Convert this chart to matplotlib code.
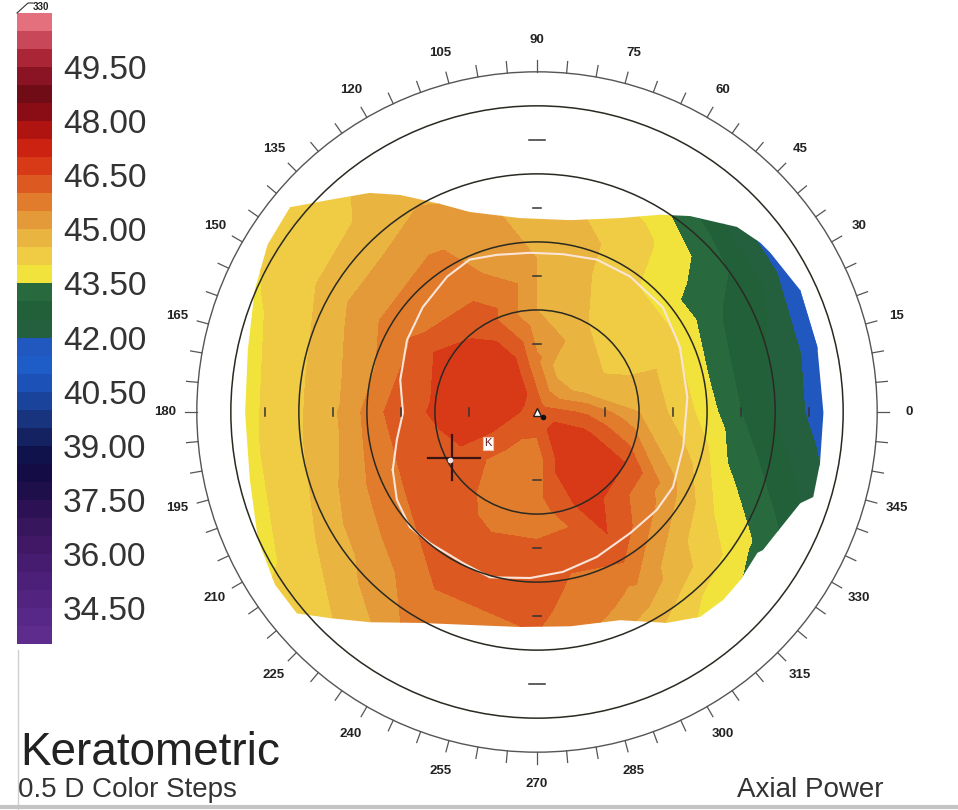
"""Axial keratometric power map (0.5 D colour steps) with the polar angle scale."""

import numpy as np
import matplotlib

matplotlib.use("Agg")
import matplotlib.pyplot as plt
from matplotlib.colors import BoundaryNorm, ListedColormap
from matplotlib.lines import Line2D
from matplotlib.patches import Circle, Polygon

plt.rcParams["font.family"] = ["Liberation Sans", "DejaVu Sans"]

# Colour scale: one colour per 0.5 D step, from 33.50 D up to 51.00 D.
STEP_LO = 33.5
STEP_HI = 51.0
STEP_COLOURS = [
    "#5e2c8c", "#582888", "#522480", "#4c2078", "#461c70", "#401866",
    "#38165e", "#2c1254", "#1e0e4a", "#140c44", "#10124c", "#142262",
    "#18347e", "#1a449c", "#1c52b8", "#1e5cc8", "#2058c0",
    "#24603e", "#22603a", "#286a3e",
    "#f2e23c", "#efcc44", "#eab440", "#e49a38", "#e07c2c", "#dc5a22",
    "#d83a18", "#cc2212", "#b01410", "#8a0c14", "#700c16", "#8a1424",
    "#aa2636", "#c8485a", "#e4707e",
]
BAR_TICKS = [34.5, 36.0, 37.5, 39.0, 40.5, 42.0, 43.5, 45.0, 46.5, 48.0, 49.5]

# Power (D) on a polar grid: angle from 0 deg (right),
# counter-clockwise, radius in mm from the map centre.
ANGLES_DEG = [0, 30, 60, 90, 120, 150, 180, 210, 240, 270, 300, 330]
RADII_MM = [0.75, 1.5, 2.25, 3.0, 3.75, 4.4, 5.0]
CENTRE_K = 46.3
K_R075 = [45.9, 44.7, 44.6, 45.6, 46.8, 47.0, 46.9, 46.4, 45.8, 45.7, 46.8, 46.8]
K_R150 = [45.0, 44.3, 44.5, 45.0, 46.3, 46.8, 46.6, 46.3, 45.9, 45.7, 46.8, 46.5]
K_R225 = [44.1, 44.1, 44.3, 45.0, 45.7, 45.9, 46.0, 46.0, 46.2, 46.3, 46.4, 45.2]
K_R300 = [43.0, 43.1, 44.2, 44.8, 45.4, 45.2, 44.9, 45.3, 46.0, 46.1, 45.4, 44.0]
K_R375 = [42.2, 42.6, 43.4, 44.5, 44.8, 44.5, 44.2, 44.5, 45.6, 45.8, 44.4, 43.4]
K_R440 = [41.5, 41.4, 43.0, 44.4, 44.7, 44.1, 43.8, 44.0, 45.0, 45.5, 44.0, 42.8]
K_R500 = [41.0, 41.2, 42.8, 44.3, 44.6, 43.9, 43.6, 43.8, 44.8, 45.3, 43.8, 42.5]
K_RINGS = [K_R075, K_R150, K_R225, K_R300, K_R375, K_R440, K_R500]

# Border of the measured area (mm), lids cut the top and bottom.
AREA_X = [-3.63, -3.04, -2.46, -2.01, -1.43, -0.99, -0.25, 0.49, 1.22, 1.81,
          2.25, 2.94, 3.28, 3.43, 3.87, 4.12, 4.21, 4.16, 4.06, 3.87,
          3.47, 3.32, 3.24, 2.99, 2.74, 2.40, 1.91, 1.22, 0.49, -0.25,
          -0.99, -1.72, -2.46, -3.04, -3.53, -3.85, -4.10, -4.22, -4.29, -4.25,
          -4.15, -3.96]
AREA_Y = [3.01, 3.12, 3.22, 3.19, 3.06, 2.94, 2.85, 2.82, 2.85, 2.90,
          2.88, 2.72, 2.49, 2.34, 1.79, 0.96, -0.01, -0.75, -1.25, -1.34,
          -1.84, -2.03, -2.07, -2.47, -2.76, -3.01, -3.10, -3.06, -3.15, -3.16,
          -3.13, -3.10, -3.09, -3.03, -2.96, -2.54, -1.88, -1.00, -0.01, 0.91,
          1.79, 2.46]

# White outline drawn over the map (mm).
WHITE_X = [-2.12, -2.06, -1.87, -1.57, -1.09, -0.69, -0.10, 0.38, 0.88, 1.37,
           1.76, 2.00, 2.15, 2.21, 2.10, 1.85, 1.37, 0.88, 0.38, -0.10,
           -0.59, -0.99, -1.32, -1.68, -1.91, -2.01, -1.97, -2.06]
WHITE_Y = [-0.85, -1.29, -1.69, -1.93, -2.22, -2.43, -2.44, -2.35, -2.13, -1.78,
           -1.44, -1.10, -0.51, 0.22, 0.96, 1.54, 1.99, 2.24, 2.32, 2.34,
           2.31, 2.24, 1.99, 1.54, 1.06, 0.47, -0.01, -0.41]

ZONE_RADII = [1.5, 2.5, 3.5, 4.5]   # 3, 5, 7, 9 mm zones
SCALE_RADIUS = 5.0
AXIS_MARKS = [1, 2, 3, 4]

W, H = 958, 810
fig = plt.figure(figsize=(W / 100, H / 100), dpi=100)


def fx(px):
    return px / W


def fy(py):
    return 1 - py / H


# ---- map -------------------------------------------------------------------
ax = fig.add_axes([fx(156), fy(793), 762 / W, 762 / H])
ax.set_xlim(-5.6, 5.6)
ax.set_ylim(-5.6, 5.6)
ax.axis("off")

levels = np.arange(STEP_LO, STEP_HI + 0.01, 0.5)
cmap = ListedColormap(STEP_COLOURS)
norm = BoundaryNorm(levels, cmap.N)

theta = np.deg2rad(ANGLES_DEG)
px_ = [0.0]
py_ = [0.0]
pz_ = [CENTRE_K]
for r, ring in zip(RADII_MM, K_RINGS):
    px_.extend(r * np.cos(theta))
    py_.extend(r * np.sin(theta))
    pz_.extend(ring)

cs = ax.tricontourf(px_, py_, pz_, levels=levels, cmap=cmap, norm=norm)
area = Polygon(np.column_stack([AREA_X, AREA_Y]), closed=True,
               facecolor="none", edgecolor="none")
ax.add_patch(area)
cs.set_clip_path(area)

ax.plot(WHITE_X + WHITE_X[:1], WHITE_Y + WHITE_Y[:1],
        color="#fbe4d8", lw=1.5, zorder=4)

for r in ZONE_RADII:
    ax.add_patch(Circle((0, 0), r, fill=False, ec="#2a2a22", lw=1.1, zorder=5))
ax.add_patch(Circle((0, 0), SCALE_RADIUS, fill=False, ec="#555555",
                    lw=1.0, zorder=5))

for deg in range(0, 360, 5):
    t = np.deg2rad(deg)
    ax.plot([SCALE_RADIUS * np.cos(t), (SCALE_RADIUS + 0.17) * np.cos(t)],
            [SCALE_RADIUS * np.sin(t), (SCALE_RADIUS + 0.17) * np.sin(t)],
            color="#555555", lw=0.9, clip_on=False)
for deg in range(0, 360, 15):
    t = np.deg2rad(deg)
    ax.text(5.47 * np.cos(t), 5.47 * np.sin(t), str(deg), fontsize=9.5,
            weight="bold", color="#222222", ha="center", va="center",
            clip_on=False)

for d in AXIS_MARKS:
    for s in (1, -1):
        ax.plot([s * d, s * d], [-0.06, 0.06], color="#333333", lw=1.1, zorder=5)
        half = 0.12 if d == 4 else 0.06
        ax.plot([-half, half], [s * d, s * d], color="#333333", lw=1.1, zorder=5)

# centre, corneal vertex and pupil markers
ax.plot([-1.60, -0.84], [-0.68, -0.68], color="#3a1410", lw=1.6, zorder=6)
ax.plot([-1.25, -1.25], [-0.34, -1.00], color="#3a1410", lw=1.6, zorder=6)
ax.plot(-1.28, -0.70, "o", ms=4, mfc="#f4e0e0", mec="none", zorder=7)
ax.text(-0.72, -0.46, "K", fontsize=8, color="#6a1a1a", ha="center",
        va="center", zorder=7,
        bbox=dict(boxstyle="square,pad=0.15", fc="white", ec="#f0c0b0", lw=0.8))
ax.plot(0.0, 0.0, marker="^", ms=6, mfc="white", mec="#222222", zorder=7)
ax.plot(0.09, -0.07, "o", ms=3, color="#111111", zorder=7)

# ---- colour bar ------------------------------------------------------------
cax = fig.add_axes([fx(17), fy(644), 35 / W, 631 / H])
mids = (levels[:-1] + levels[1:]) / 2
cax.pcolormesh([0, 1], levels, mids.reshape(-1, 1), cmap=cmap, norm=norm)
cax.set_xlim(0, 1)
cax.set_ylim(STEP_LO, STEP_HI)
cax.set_xticks([])
cax.yaxis.tick_right()
cax.set_yticks(BAR_TICKS)
cax.set_yticklabels([f"{v:.2f}" for v in BAR_TICKS])
cax.tick_params(axis="y", length=0, pad=8, labelsize=24, labelcolor="#333333")
for sp in cax.spines.values():
    sp.set_visible(False)

# ---- page furniture --------------------------------------------------------
fig.add_artist(Line2D([fx(17), fx(28), fx(33)], [fy(13), fy(3), fy(3)],
                      color="#333333", lw=0.8))
fig.text(fx(33), fy(7), "330", fontsize=7, weight="bold", color="#222222",
         va="center")
fig.add_artist(Line2D([fx(18), fx(18)], [fy(650), fy(810)],
                      color="#cfcfcf", lw=1.0))
fig.add_artist(Line2D([0, 1], [fy(807), fy(807)], color="#c4c4c4", lw=3))

fig.text(fx(20), fy(765), "Keratometric", fontsize=33, color="#222222",
         va="baseline")
fig.text(fx(18), fy(797), "0.5 D Color Steps", fontsize=20, color="#333333",
         va="baseline")
fig.text(fx(737), fy(797), "Axial Power", fontsize=20, color="#333333",
         va="baseline")

fig.savefig("out.png", dpi=100)
